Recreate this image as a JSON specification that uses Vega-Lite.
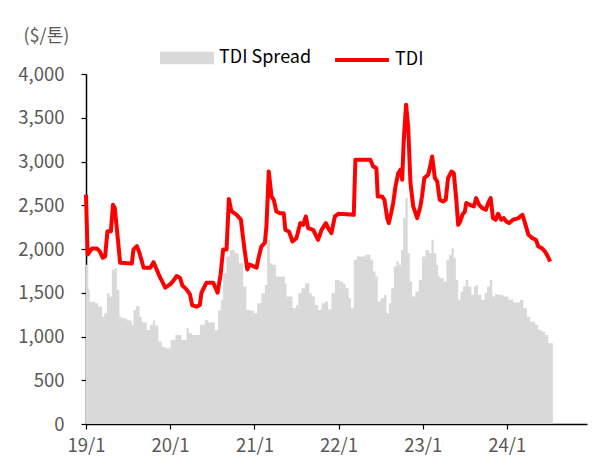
{
  "$schema": "https://vega.github.io/schema/vega-lite/v6.json",
  "width": 501,
  "height": 350,
  "autosize": "none",
  "padding": {"left": 86, "top": 74, "right": 23, "bottom": 43},
  "background": "white",
  "config": {
    "view": {"stroke": null},
    "font": "Noto Sans CJK KR",
    "axis": {"labelFont": "Noto Sans CJK KR", "titleFont": "Noto Sans CJK KR", "labelColor": "#595959", "labelFontSize": 18.5, "grid": false, "domainColor": "#000000", "tickColor": "#000000", "domainWidth": 1.5, "tickWidth": 1.2, "tickSize": 5},
    "legend": {"labelFont": "Noto Sans CJK KR", "labelFontSize": 18, "labelColor": "#000000"}
  },
  "datasets": {
    "tdi": [
      {"date": "2019-01-01", "value": 2620},
      {"date": "2019-01-08", "value": 1937},
      {"date": "2019-01-27", "value": 2006},
      {"date": "2019-02-17", "value": 2006},
      {"date": "2019-03-01", "value": 1975},
      {"date": "2019-03-15", "value": 1900},
      {"date": "2019-03-25", "value": 1915},
      {"date": "2019-04-04", "value": 2203},
      {"date": "2019-04-19", "value": 2203},
      {"date": "2019-04-28", "value": 2507},
      {"date": "2019-05-06", "value": 2469},
      {"date": "2019-05-18", "value": 2146},
      {"date": "2019-05-29", "value": 1843},
      {"date": "2019-07-19", "value": 1835},
      {"date": "2019-07-26", "value": 1994},
      {"date": "2019-08-10", "value": 2032},
      {"date": "2019-08-21", "value": 1956},
      {"date": "2019-09-08", "value": 1786},
      {"date": "2019-10-07", "value": 1786},
      {"date": "2019-10-21", "value": 1850},
      {"date": "2019-11-19", "value": 1672},
      {"date": "2019-12-11", "value": 1558},
      {"date": "2020-01-01", "value": 1595},
      {"date": "2020-01-14", "value": 1633},
      {"date": "2020-01-29", "value": 1690},
      {"date": "2020-02-13", "value": 1671},
      {"date": "2020-02-23", "value": 1584},
      {"date": "2020-03-12", "value": 1538},
      {"date": "2020-03-27", "value": 1481},
      {"date": "2020-04-06", "value": 1356},
      {"date": "2020-04-25", "value": 1341},
      {"date": "2020-05-09", "value": 1360},
      {"date": "2020-05-16", "value": 1500},
      {"date": "2020-06-07", "value": 1615},
      {"date": "2020-07-06", "value": 1615},
      {"date": "2020-07-25", "value": 1500},
      {"date": "2020-08-07", "value": 1709},
      {"date": "2020-08-18", "value": 1994},
      {"date": "2020-09-02", "value": 1994},
      {"date": "2020-09-12", "value": 2572},
      {"date": "2020-09-23", "value": 2431},
      {"date": "2020-10-15", "value": 2393},
      {"date": "2020-11-03", "value": 2336},
      {"date": "2020-11-17", "value": 2032},
      {"date": "2020-12-01", "value": 1766},
      {"date": "2020-12-11", "value": 1823},
      {"date": "2021-01-10", "value": 1786},
      {"date": "2021-01-19", "value": 1900},
      {"date": "2021-01-31", "value": 2028},
      {"date": "2021-02-15", "value": 2070},
      {"date": "2021-02-22", "value": 2257},
      {"date": "2021-03-04", "value": 2886},
      {"date": "2021-03-16", "value": 2600},
      {"date": "2021-03-26", "value": 2562},
      {"date": "2021-04-06", "value": 2429},
      {"date": "2021-04-21", "value": 2410},
      {"date": "2021-05-08", "value": 2410},
      {"date": "2021-05-15", "value": 2219},
      {"date": "2021-05-31", "value": 2200},
      {"date": "2021-06-15", "value": 2086},
      {"date": "2021-07-02", "value": 2124},
      {"date": "2021-07-19", "value": 2296},
      {"date": "2021-07-31", "value": 2276},
      {"date": "2021-08-12", "value": 2372},
      {"date": "2021-08-22", "value": 2239},
      {"date": "2021-09-13", "value": 2219},
      {"date": "2021-10-04", "value": 2105},
      {"date": "2021-10-19", "value": 2219},
      {"date": "2021-11-07", "value": 2296},
      {"date": "2021-11-17", "value": 2239},
      {"date": "2021-12-01", "value": 2181},
      {"date": "2021-12-16", "value": 2372},
      {"date": "2021-12-31", "value": 2402},
      {"date": "2022-03-08", "value": 2391},
      {"date": "2022-03-15", "value": 3020},
      {"date": "2022-05-19", "value": 3020},
      {"date": "2022-05-31", "value": 2944},
      {"date": "2022-06-14", "value": 2925},
      {"date": "2022-06-20", "value": 2600},
      {"date": "2022-07-09", "value": 2600},
      {"date": "2022-07-19", "value": 2562},
      {"date": "2022-07-31", "value": 2353},
      {"date": "2022-08-07", "value": 2296},
      {"date": "2022-08-17", "value": 2410},
      {"date": "2022-08-26", "value": 2525},
      {"date": "2022-09-05", "value": 2715},
      {"date": "2022-09-17", "value": 2868},
      {"date": "2022-09-27", "value": 2906},
      {"date": "2022-10-04", "value": 2791},
      {"date": "2022-10-11", "value": 3249},
      {"date": "2022-10-21", "value": 3649},
      {"date": "2022-10-30", "value": 3401},
      {"date": "2022-11-09", "value": 2753},
      {"date": "2022-11-21", "value": 2486},
      {"date": "2022-12-08", "value": 2353},
      {"date": "2022-12-22", "value": 2486},
      {"date": "2022-12-29", "value": 2600},
      {"date": "2023-01-08", "value": 2810},
      {"date": "2023-01-25", "value": 2849},
      {"date": "2023-02-04", "value": 2963},
      {"date": "2023-02-11", "value": 3058},
      {"date": "2023-02-23", "value": 2810},
      {"date": "2023-03-05", "value": 2772},
      {"date": "2023-03-16", "value": 2562},
      {"date": "2023-03-31", "value": 2543},
      {"date": "2023-04-11", "value": 2562},
      {"date": "2023-04-21", "value": 2810},
      {"date": "2023-05-06", "value": 2886},
      {"date": "2023-05-16", "value": 2868},
      {"date": "2023-05-27", "value": 2562},
      {"date": "2023-06-04", "value": 2276},
      {"date": "2023-06-13", "value": 2315},
      {"date": "2023-06-22", "value": 2391},
      {"date": "2023-07-03", "value": 2429},
      {"date": "2023-07-09", "value": 2525},
      {"date": "2023-07-24", "value": 2505},
      {"date": "2023-08-11", "value": 2486},
      {"date": "2023-08-21", "value": 2582},
      {"date": "2023-09-03", "value": 2505},
      {"date": "2023-09-17", "value": 2467},
      {"date": "2023-10-02", "value": 2448},
      {"date": "2023-10-12", "value": 2525},
      {"date": "2023-10-23", "value": 2582},
      {"date": "2023-11-02", "value": 2353},
      {"date": "2023-11-14", "value": 2334},
      {"date": "2023-11-24", "value": 2402},
      {"date": "2023-12-08", "value": 2334},
      {"date": "2023-12-19", "value": 2353},
      {"date": "2023-12-30", "value": 2315},
      {"date": "2024-01-11", "value": 2296},
      {"date": "2024-01-28", "value": 2334},
      {"date": "2024-02-20", "value": 2353},
      {"date": "2024-03-09", "value": 2391},
      {"date": "2024-03-20", "value": 2296},
      {"date": "2024-04-04", "value": 2162},
      {"date": "2024-04-21", "value": 2124},
      {"date": "2024-05-06", "value": 2105},
      {"date": "2024-05-17", "value": 2028},
      {"date": "2024-06-01", "value": 2010},
      {"date": "2024-06-15", "value": 1971},
      {"date": "2024-06-27", "value": 1914},
      {"date": "2024-07-07", "value": 1857}
    ],
    "spread": [
      {"date": "2019-01-01", "value": 1819},
      {"date": "2019-01-11", "value": 1533},
      {"date": "2019-01-17", "value": 1396},
      {"date": "2019-02-10", "value": 1380},
      {"date": "2019-02-23", "value": 1342},
      {"date": "2019-03-12", "value": 1227},
      {"date": "2019-03-21", "value": 1265},
      {"date": "2019-04-02", "value": 1495},
      {"date": "2019-04-13", "value": 1456},
      {"date": "2019-04-23", "value": 1762},
      {"date": "2019-05-05", "value": 1781},
      {"date": "2019-05-15", "value": 1533},
      {"date": "2019-05-26", "value": 1227},
      {"date": "2019-06-06", "value": 1209},
      {"date": "2019-06-27", "value": 1182},
      {"date": "2019-07-19", "value": 1133},
      {"date": "2019-07-26", "value": 1304},
      {"date": "2019-08-07", "value": 1350},
      {"date": "2019-08-21", "value": 1227},
      {"date": "2019-08-31", "value": 1163},
      {"date": "2019-09-22", "value": 1075},
      {"date": "2019-10-06", "value": 1133},
      {"date": "2019-10-18", "value": 1182},
      {"date": "2019-10-28", "value": 1125},
      {"date": "2019-11-11", "value": 941},
      {"date": "2019-11-26", "value": 884},
      {"date": "2019-12-11", "value": 866},
      {"date": "2020-01-03", "value": 960},
      {"date": "2020-01-24", "value": 1018},
      {"date": "2020-02-19", "value": 960},
      {"date": "2020-03-12", "value": 1095},
      {"date": "2020-03-22", "value": 1037},
      {"date": "2020-04-06", "value": 1018},
      {"date": "2020-05-09", "value": 1133},
      {"date": "2020-05-31", "value": 1190},
      {"date": "2020-06-14", "value": 1163},
      {"date": "2020-07-13", "value": 1075},
      {"date": "2020-07-27", "value": 1296},
      {"date": "2020-08-08", "value": 1419},
      {"date": "2020-08-18", "value": 1724},
      {"date": "2020-09-01", "value": 1914},
      {"date": "2020-09-16", "value": 1990},
      {"date": "2020-10-08", "value": 1952},
      {"date": "2020-10-25", "value": 1838},
      {"date": "2020-11-13", "value": 1571},
      {"date": "2020-11-27", "value": 1304},
      {"date": "2020-12-12", "value": 1296},
      {"date": "2020-12-31", "value": 1265},
      {"date": "2021-01-13", "value": 1380},
      {"date": "2021-01-31", "value": 1495},
      {"date": "2021-02-15", "value": 1590},
      {"date": "2021-02-25", "value": 2105},
      {"date": "2021-03-09", "value": 1838},
      {"date": "2021-03-20", "value": 1819},
      {"date": "2021-04-04", "value": 1685},
      {"date": "2021-05-13", "value": 1609},
      {"date": "2021-05-20", "value": 1456},
      {"date": "2021-06-15", "value": 1323},
      {"date": "2021-06-30", "value": 1361},
      {"date": "2021-07-10", "value": 1495},
      {"date": "2021-07-24", "value": 1552},
      {"date": "2021-08-08", "value": 1609},
      {"date": "2021-08-27", "value": 1495},
      {"date": "2021-09-06", "value": 1456},
      {"date": "2021-09-20", "value": 1361},
      {"date": "2021-10-04", "value": 1304},
      {"date": "2021-10-19", "value": 1380},
      {"date": "2021-11-03", "value": 1399},
      {"date": "2021-11-17", "value": 1311},
      {"date": "2021-12-01", "value": 1495},
      {"date": "2021-12-16", "value": 1647},
      {"date": "2022-01-06", "value": 1628},
      {"date": "2022-01-21", "value": 1600},
      {"date": "2022-01-31", "value": 1552},
      {"date": "2022-02-14", "value": 1438},
      {"date": "2022-02-24", "value": 1323},
      {"date": "2022-03-08", "value": 1876},
      {"date": "2022-03-22", "value": 1914},
      {"date": "2022-04-27", "value": 1933},
      {"date": "2022-05-19", "value": 1876},
      {"date": "2022-05-31", "value": 1742},
      {"date": "2022-06-10", "value": 1685},
      {"date": "2022-06-20", "value": 1399},
      {"date": "2022-07-02", "value": 1438},
      {"date": "2022-07-17", "value": 1476},
      {"date": "2022-07-28", "value": 1265},
      {"date": "2022-08-07", "value": 1380},
      {"date": "2022-08-17", "value": 1552},
      {"date": "2022-08-29", "value": 1800},
      {"date": "2022-09-09", "value": 1857},
      {"date": "2022-09-19", "value": 1819},
      {"date": "2022-09-29", "value": 1990},
      {"date": "2022-10-08", "value": 2353},
      {"date": "2022-10-18", "value": 2582},
      {"date": "2022-10-28", "value": 1952},
      {"date": "2022-11-06", "value": 1628},
      {"date": "2022-11-16", "value": 1456},
      {"date": "2022-11-30", "value": 1514},
      {"date": "2022-12-15", "value": 1647},
      {"date": "2022-12-29", "value": 1914},
      {"date": "2023-01-13", "value": 1990},
      {"date": "2023-01-29", "value": 1952},
      {"date": "2023-02-08", "value": 2105},
      {"date": "2023-02-18", "value": 1952},
      {"date": "2023-03-01", "value": 1819},
      {"date": "2023-03-09", "value": 1685},
      {"date": "2023-03-19", "value": 1666},
      {"date": "2023-04-03", "value": 1628},
      {"date": "2023-04-14", "value": 1876},
      {"date": "2023-04-26", "value": 1933},
      {"date": "2023-05-06", "value": 2010},
      {"date": "2023-05-16", "value": 1895},
      {"date": "2023-05-25", "value": 1647},
      {"date": "2023-06-04", "value": 1419},
      {"date": "2023-06-14", "value": 1514},
      {"date": "2023-06-25", "value": 1571},
      {"date": "2023-07-07", "value": 1647},
      {"date": "2023-07-17", "value": 1571},
      {"date": "2023-07-31", "value": 1476},
      {"date": "2023-08-11", "value": 1571},
      {"date": "2023-08-22", "value": 1590},
      {"date": "2023-08-29", "value": 1476},
      {"date": "2023-09-12", "value": 1419},
      {"date": "2023-09-27", "value": 1495},
      {"date": "2023-10-07", "value": 1571},
      {"date": "2023-10-19", "value": 1647},
      {"date": "2023-10-30", "value": 1456},
      {"date": "2023-11-11", "value": 1484},
      {"date": "2023-11-25", "value": 1476},
      {"date": "2023-12-17", "value": 1456},
      {"date": "2024-01-08", "value": 1420},
      {"date": "2024-01-29", "value": 1390},
      {"date": "2024-02-27", "value": 1419},
      {"date": "2024-03-13", "value": 1323},
      {"date": "2024-03-28", "value": 1227},
      {"date": "2024-04-11", "value": 1170},
      {"date": "2024-05-03", "value": 1133},
      {"date": "2024-05-17", "value": 1075},
      {"date": "2024-06-01", "value": 1056},
      {"date": "2024-06-15", "value": 1018},
      {"date": "2024-06-29", "value": 923},
      {"date": "2024-07-19", "value": 923}
    ]
  },
  "encoding": {
    "x": {
      "field": "date", "type": "temporal",
      "scale": {"domain": ["2019-01-01", "2024-12-14"]},
      "axis": {
        "title": null, "format": "%y/%-m", "labelFlush": false,
        "values": [{"year": 2019, "month": 1, "date": 1}, {"year": 2020, "month": 1, "date": 1}, {"year": 2021, "month": 1, "date": 1}, {"year": 2022, "month": 1, "date": 1}, {"year": 2023, "month": 1, "date": 1}, {"year": 2024, "month": 1, "date": 1}],
        "labelPadding": 7
      }
    },
    "y": {
      "field": "value", "type": "quantitative",
      "scale": {"domain": [0, 4000], "nice": false},
      "axis": {
        "values": [0, 500, 1000, 1500, 2000, 2500, 3000, 3500, 4000],
        "format": ",d", "labelPadding": 17,
        "title": "($/톤)", "titleAngle": 0, "titleAlign": "left", "titleBaseline": "middle",
        "titleX": -63, "titleY": -38, "titleFontSize": 18, "titleFontWeight": "normal", "titleColor": "#595959"
      }
    }
  },
  "layer": [
    {
      "data": {"name": "spread"},
      "mark": {"type": "area", "interpolate": "step-after", "opacity": 1},
      "encoding": {
        "fill": {
          "datum": "TDI Spread",
          "scale": {"domain": ["TDI Spread"], "range": ["#d9d9d9"]},
          "legend": {
            "orient": "none", "legendX": 74, "legendY": -43, "direction": "horizontal",
            "title": null, "symbolSize": 2900, "labelOffset": 5,
            "symbolType": "M-1,-0.23H1V0.23H-1Z", "symbolStrokeWidth": 0, "symbolOpacity": 1
          }
        }
      }
    },
    {
      "data": {"name": "tdi"},
      "mark": {"type": "line", "strokeWidth": 4, "strokeJoin": "round"},
      "encoding": {
        "stroke": {
          "datum": "TDI",
          "scale": {"domain": ["TDI"], "range": ["#ff0000"]},
          "legend": {
            "orient": "none", "legendX": 247, "legendY": -43, "direction": "horizontal",
            "title": null, "symbolSize": 2900, "labelOffset": 4,
            "symbolType": "stroke", "symbolStrokeWidth": 4
          }
        }
      }
    }
  ]
}
